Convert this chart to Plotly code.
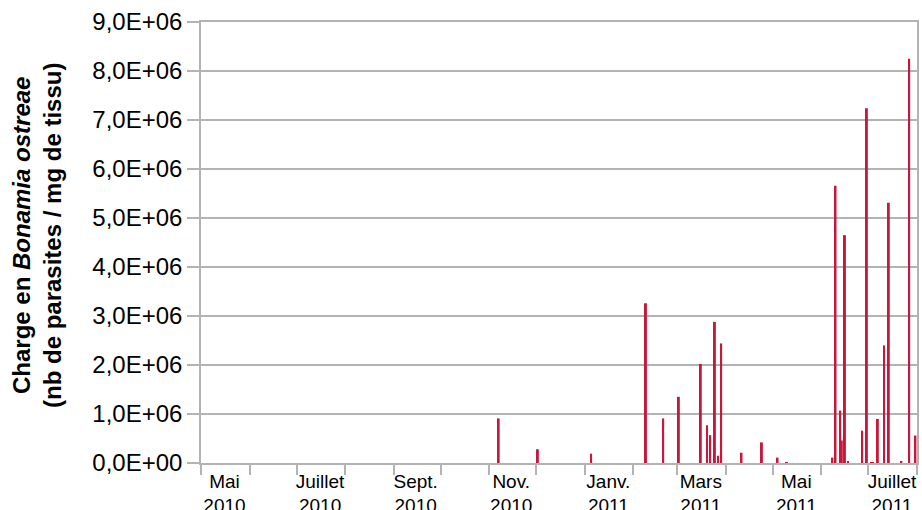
import pandas as pd
import plotly.graph_objects as go

# Sampling dates and Bonamia ostreae load (parasites / mg tissue)
dates = [
    "2010-11-07", "2010-12-02", "2011-01-05", "2011-02-09", "2011-02-20",
    "2011-03-02", "2011-03-16", "2011-03-20", "2011-03-22", "2011-03-25",
    "2011-03-27", "2011-03-29", "2011-04-11", "2011-04-24", "2011-05-04",
    "2011-05-10", "2011-06-08", "2011-06-10", "2011-06-13", "2011-06-14",
    "2011-06-16", "2011-06-18", "2011-06-27", "2011-06-30", "2011-07-03",
    "2011-07-04", "2011-07-07", "2011-07-11", "2011-07-14", "2011-07-22",
    "2011-07-27", "2011-07-31",
]
charge = [
    9.1e5, 2.8e5, 1.9e5, 3.26e6, 9.1e5,
    1.35e6, 2.02e6, 7.7e5, 5.7e5, 2.88e6,
    1.5e5, 2.44e6, 2.1e5, 4.2e5, 1.1e5,
    1.5e4, 1.1e5, 5.66e6, 1.07e6, 4.6e5,
    4.65e6, 3.0e4, 6.6e5, 7.24e6, 2.0e4,
    2.0e4, 9.0e5, 2.4e6, 5.31e6, 4.0e4,
    8.25e6, 5.6e5,
]

# Axis labels
month_label_dates = [
    "2010-05-16", "2010-07-16", "2010-09-15", "2010-11-15",
    "2011-01-16", "2011-03-16", "2011-05-16", "2011-07-16",
]
month_labels = [
    "Mai<br>2010", "Juillet<br>2010", "Sept.<br>2010", "Nov.<br>2010",
    "Janv.<br>2011", "Mars<br>2011", "Mai<br>2011", "Juillet<br>2011",
]
y_tick_values = [0, 1e6, 2e6, 3e6, 4e6, 5e6, 6e6, 7e6, 8e6, 9e6]
y_tick_labels = [
    "0,0E+00", "1,0E+06", "2,0E+06", "3,0E+06", "4,0E+06",
    "5,0E+06", "6,0E+06", "7,0E+06", "8,0E+06", "9,0E+06",
]

x_start, x_end = "2010-05-01", "2011-08-01"
month_starts = [d.strftime("%Y-%m-%d") for d in pd.date_range(x_start, x_end, freq="MS")]

GRID = "#b3b3b3"
BAR = "#C8173D"
FONT = "Liberation Sans, Arial, sans-serif"
DAY_MS = 86400000

fig = go.Figure(
    go.Bar(
        x=dates,
        y=charge,
        width=1.25 * DAY_MS,
        marker=dict(color=BAR, line=dict(width=0)),
        hovertemplate="%{x|%d/%m/%Y}: %{y:.2e}<extra></extra>",
    )
)

fig.update_layout(
    width=922,
    height=510,
    margin=dict(l=201, r=5, t=22, b=47),
    paper_bgcolor="white",
    plot_bgcolor="white",
    showlegend=False,
    font=dict(family=FONT, color="black"),
)

fig.update_xaxes(
    type="date",
    range=[x_start, x_end],
    automargin=False,
    showline=True,
    linecolor=GRID,
    linewidth=1.5,
    mirror=True,
    showgrid=False,
    zeroline=False,
    tickmode="array",
    tickvals=month_label_dates,
    ticktext=month_labels,
    ticks="",
    tickfont=dict(size=19, family=FONT, color="black"),
    minor=dict(
        tickmode="array",
        tickvals=month_starts,
        ticks="outside",
        ticklen=10,
        tickwidth=1.5,
        tickcolor=GRID,
        showgrid=False,
    ),
)

fig.update_yaxes(
    range=[0, 9e6],
    automargin=False,
    tickmode="array",
    tickvals=y_tick_values,
    ticktext=y_tick_labels,
    ticks="outside",
    ticklen=12,
    tickwidth=1.5,
    tickcolor=GRID,
    showgrid=True,
    gridcolor=GRID,
    gridwidth=1.5,
    showline=True,
    linecolor=GRID,
    linewidth=1.5,
    mirror=True,
    zeroline=False,
    tickfont=dict(size=24, family=FONT, color="black"),
)

fig.add_annotation(
    text="<b>Charge en <i>Bonamia ostreae</i><br>(nb de parasites / mg de tissu)</b>",
    xref="paper",
    yref="paper",
    x=-(201 - 37) / 716,
    y=(463 - 236) / 441,
    xanchor="center",
    yanchor="middle",
    textangle=-90,
    showarrow=False,
    font=dict(size=24, family=FONT, color="black"),
)

fig.write_html("out.html")
